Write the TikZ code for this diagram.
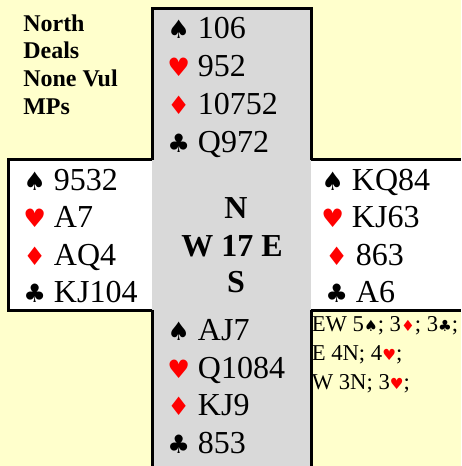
\documentclass[tikz,border=0pt]{standalone}
\usepackage{fontspec}
\setmainfont{Liberation Serif}
\newfontfamily\suitfont{DejaVu Sans}
\usepackage{tikz}

\definecolor{pagebg}{RGB}{255,255,204}
\definecolor{handgray}{RGB}{217,217,217}
\definecolor{suitred}{RGB}{255,0,0}

\newcommand{\spd}{{\suitfont\fontsize{19}{19}\selectfont ♠}}
\newcommand{\hrt}{{\suitfont\fontsize{19}{19}\selectfont\textcolor{suitred}{♥}}}
\newcommand{\dmd}{{\suitfont\fontsize{19}{19}\selectfont\textcolor{suitred}{♦}}}
\newcommand{\clb}{{\suitfont\fontsize{19}{19}\selectfont ♣}}
\newcommand{\sspd}{{\suitfont\fontsize{11.5}{12}\selectfont ♠}}
\newcommand{\shrt}{{\suitfont\fontsize{11.5}{12}\selectfont\textcolor{suitred}{♥}}}
\newcommand{\sdmd}{{\suitfont\fontsize{11.5}{12}\selectfont\textcolor{suitred}{♦}}}
\newcommand{\sclb}{{\suitfont\fontsize{11.5}{12}\selectfont ♣}}

\begin{document}
\begin{tikzpicture}[
  x=0.75pt, y=-0.75pt,
  rule/.style={draw=black, line width=2.25pt},
  hand/.style={anchor=base west, inner sep=0pt, font=\fontsize{24}{28}\selectfont},
  info/.style={anchor=base west, inner sep=0pt, font=\bfseries\fontsize{18}{20}\selectfont},
  compass/.style={anchor=base, inner sep=0pt, font=\bfseries\fontsize{24}{28}\selectfont},
  par/.style={anchor=base west, inner sep=0pt, font=\fontsize{17}{20}\selectfont}
]
\useasboundingbox (0,0) rectangle (461,466);
% background and panels
\fill[pagebg] (0,0) rectangle (461,466);
\fill[handgray] (152,9) rectangle (311,466);
\fill[white] (8,160) rectangle (152,310);
\fill[white] (311,160) rectangle (461,310);
\draw[rule] (152,160) -- (152,9) -- (311,9) -- (311,160);
\draw[rule] (152,160) -- (8,160) -- (8,310) -- (152,310);
\draw[rule] (311,160) -- (461,160);
\draw[rule] (311,310) -- (461,310);
\draw[rule] (152,310) -- (152,466);
\draw[rule] (311,310) -- (311,466);

% dealer and vulnerability
\node[info] (deal1) at (23,32) {North};
\node[info] (deal2) at (23,59) {Deals};
\node[info] (deal3) at (23,87) {None Vul};
\node[info] (deal4) at (23,115) {MPs};

% north
\node[hand] (north1) at (167,39) {\spd\ 106};
\node[hand] (north2) at (167,77) {\hrt\ 952};
\node[hand] (north3) at (167,115) {\dmd\ 10752};
\node[hand] (north4) at (167,153) {\clb\ Q972};

% west
\node[hand] (west1) at (23,191) {\spd\ 9532};
\node[hand] (west2) at (23,228) {\hrt\ A7};
\node[hand] (west3) at (23,265) {\dmd\ AQ4};
\node[hand] (west4) at (23,302) {\clb\ KJ104};

% east
\node[hand] (east1) at (321,191) {\spd\ KQ84};
\node[hand] (east2) at (321,228) {\hrt\ KJ63};
\node[hand] (east3) at (325,265) {\dmd\ 863};
\node[hand] (east4) at (325,302) {\clb\ A6};

% south
\node[hand] (south1) at (167,340) {\spd\ AJ7};
\node[hand] (south2) at (167,378) {\hrt\ Q1084};
\node[hand] (south3) at (167,415) {\dmd\ KJ9};
\node[hand] (south4) at (167,453) {\clb\ 853};

% board number
\node[compass] (cN) at (236,219) {N};
\node[compass] (cWE) at (232,256) {W 17 E};
\node[compass] (cS) at (236,292) {S};

% par contracts
\node[par] (par1) at (311.5,331) {EW 5\sspd; 3\sdmd; 3\sclb;};
\node[par] (par2) at (311.5,360) {E 4N; 4\shrt;};
\node[par] (par3) at (311.5,389) {W 3N; 3\shrt;};
\end{tikzpicture}
\end{document}
